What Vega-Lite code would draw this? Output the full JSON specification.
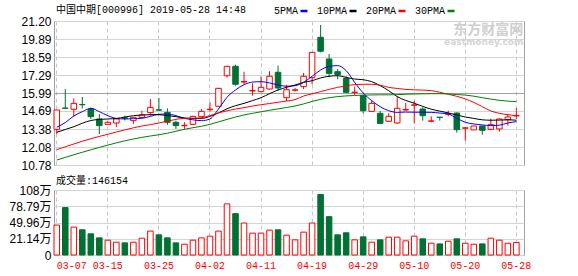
{
  "$schema": "https://vega.github.io/schema/vega-lite/v6.json",
  "background": "white",
  "padding": {"left": 8, "top": 4, "right": 0, "bottom": 0},
  "data": {"values": [
    {"d":"03-07","o":13.36,"h":14.76,"l":13.02,"c":14.76,"v":45.4,"5PMA":13.51,"10PMA":13.15,"20PMA":11.89,"30PMA":11.14},
    {"d":"03-08","o":14.90,"h":16.28,"l":14.85,"c":14.88,"v":76.4,"5PMA":13.85,"10PMA":13.35,"20PMA":12.10,"30PMA":11.33},
    {"d":"03-11","o":14.81,"h":15.60,"l":14.28,"c":15.24,"v":41.8,"5PMA":14.33,"10PMA":13.55,"20PMA":12.30,"30PMA":11.52},
    {"d":"03-12","o":15.16,"h":15.70,"l":14.88,"c":15.14,"v":37.0,"5PMA":14.64,"10PMA":13.80,"20PMA":12.50,"30PMA":11.70},
    {"d":"03-13","o":14.83,"h":14.93,"l":14.11,"c":14.28,"v":29.9,"5PMA":14.88,"10PMA":14.00,"20PMA":12.68,"30PMA":11.88},
    {"d":"03-14","o":14.11,"h":14.47,"l":13.02,"c":13.63,"v":22.7,"5PMA":14.64,"10PMA":14.08,"20PMA":12.85,"30PMA":12.05},
    {"d":"03-15","o":13.72,"h":13.95,"l":13.70,"c":13.87,"v":18.6,"5PMA":14.35,"10PMA":14.11,"20PMA":13.00,"30PMA":12.22},
    {"d":"03-18","o":13.82,"h":14.15,"l":13.53,"c":14.11,"v":15.0,"5PMA":14.15,"10PMA":14.15,"20PMA":13.17,"30PMA":12.38},
    {"d":"03-19","o":14.19,"h":14.35,"l":14.00,"c":14.17,"v":13.8,"5PMA":14.11,"10PMA":14.25,"20PMA":13.32,"30PMA":12.53},
    {"d":"03-20","o":13.99,"h":14.25,"l":13.75,"c":14.23,"v":15.0,"5PMA":14.13,"10PMA":14.35,"20PMA":13.47,"30PMA":12.66},
    {"d":"03-21","o":14.22,"h":14.71,"l":14.20,"c":14.40,"v":22.1,"5PMA":14.16,"10PMA":14.40,"20PMA":13.60,"30PMA":12.78},
    {"d":"03-22","o":14.57,"h":15.56,"l":14.35,"c":14.95,"v":34.7,"5PMA":14.30,"10PMA":14.42,"20PMA":13.70,"30PMA":12.88},
    {"d":"03-25","o":14.77,"h":15.63,"l":14.74,"c":14.75,"v":28.1,"5PMA":14.45,"10PMA":14.42,"20PMA":13.82,"30PMA":12.97},
    {"d":"03-26","o":14.59,"h":14.88,"l":13.68,"c":13.87,"v":22.7,"5PMA":14.47,"10PMA":14.35,"20PMA":13.95,"30PMA":13.08},
    {"d":"03-27","o":13.87,"h":13.99,"l":13.39,"c":13.63,"v":13.8,"5PMA":14.35,"10PMA":14.28,"20PMA":14.08,"30PMA":13.22},
    {"d":"03-28","o":13.62,"h":13.87,"l":13.39,"c":13.65,"v":11.4,"5PMA":14.16,"10PMA":14.18,"20PMA":14.16,"30PMA":13.36},
    {"d":"03-29","o":13.72,"h":14.35,"l":13.68,"c":14.30,"v":18.6,"5PMA":14.05,"10PMA":14.15,"20PMA":14.16,"30PMA":13.48},
    {"d":"04-01","o":14.28,"h":14.83,"l":14.26,"c":14.66,"v":22.7,"5PMA":13.99,"10PMA":14.15,"20PMA":14.20,"30PMA":13.58},
    {"d":"04-02","o":14.78,"h":15.31,"l":14.64,"c":14.82,"v":25.7,"5PMA":14.11,"10PMA":14.30,"20PMA":14.35,"30PMA":13.72},
    {"d":"04-03","o":15.03,"h":16.35,"l":14.98,"c":16.33,"v":34.7,"5PMA":14.83,"10PMA":14.55,"20PMA":14.55,"30PMA":13.90},
    {"d":"04-04","o":17.24,"h":17.95,"l":17.10,"c":17.92,"v":83.0,"5PMA":15.68,"10PMA":14.85,"20PMA":14.70,"30PMA":14.08},
    {"d":"04-08","o":17.92,"h":18.04,"l":16.52,"c":16.62,"v":65.7,"5PMA":16.21,"10PMA":15.07,"20PMA":14.83,"30PMA":14.25},
    {"d":"04-09","o":16.78,"h":17.53,"l":16.64,"c":16.82,"v":49.0,"5PMA":16.59,"10PMA":15.24,"20PMA":14.93,"30PMA":14.40},
    {"d":"04-10","o":16.14,"h":16.69,"l":15.80,"c":16.17,"v":31.1,"5PMA":16.78,"10PMA":15.44,"20PMA":15.05,"30PMA":14.52},
    {"d":"04-11","o":16.09,"h":17.20,"l":16.05,"c":16.40,"v":31.1,"5PMA":16.81,"10PMA":15.65,"20PMA":15.14,"30PMA":14.63},
    {"d":"04-12","o":16.28,"h":17.56,"l":16.24,"c":17.20,"v":36.4,"5PMA":16.72,"10PMA":15.94,"20PMA":15.23,"30PMA":14.74},
    {"d":"04-15","o":17.49,"h":17.97,"l":16.16,"c":16.35,"v":37.0,"5PMA":16.57,"10PMA":16.21,"20PMA":15.32,"30PMA":14.84},
    {"d":"04-16","o":15.65,"h":16.59,"l":15.41,"c":16.23,"v":27.5,"5PMA":16.48,"10PMA":16.40,"20PMA":15.41,"30PMA":14.94},
    {"d":"04-17","o":16.19,"h":16.35,"l":16.09,"c":16.22,"v":19.2,"5PMA":16.52,"10PMA":16.57,"20PMA":15.51,"30PMA":15.05},
    {"d":"04-18","o":16.45,"h":17.44,"l":16.28,"c":17.20,"v":32.9,"5PMA":16.76,"10PMA":16.76,"20PMA":15.77,"30PMA":15.20},
    {"d":"04-19","o":17.10,"h":18.95,"l":16.62,"c":18.93,"v":49.0,"5PMA":17.20,"10PMA":16.88,"20PMA":15.93,"30PMA":15.38},
    {"d":"04-22","o":20.02,"h":20.91,"l":18.93,"c":19.01,"v":99.7,"5PMA":17.65,"10PMA":17.08,"20PMA":16.09,"30PMA":15.53},
    {"d":"04-23","o":18.45,"h":18.81,"l":17.12,"c":17.41,"v":60.3,"5PMA":17.92,"10PMA":17.20,"20PMA":16.25,"30PMA":15.65},
    {"d":"04-24","o":17.53,"h":17.72,"l":16.98,"c":17.32,"v":28.1,"5PMA":17.97,"10PMA":17.24,"20PMA":16.40,"30PMA":15.73},
    {"d":"04-25","o":17.05,"h":17.20,"l":15.99,"c":16.04,"v":31.7,"5PMA":17.61,"10PMA":17.12,"20PMA":16.50,"30PMA":15.78},
    {"d":"04-26","o":16.02,"h":16.45,"l":15.85,"c":16.05,"v":19.2,"5PMA":16.76,"10PMA":17.00,"20PMA":16.60,"30PMA":15.81},
    {"d":"04-29","o":15.80,"h":15.85,"l":14.52,"c":14.71,"v":24.5,"5PMA":15.99,"10PMA":16.95,"20PMA":16.62,"30PMA":15.84},
    {"d":"04-30","o":14.66,"h":15.44,"l":14.64,"c":15.24,"v":15.0,"5PMA":15.44,"10PMA":16.81,"20PMA":16.62,"30PMA":15.85},
    {"d":"05-06","o":14.52,"h":14.69,"l":13.78,"c":13.79,"v":19.2,"5PMA":15.00,"10PMA":16.52,"20PMA":16.55,"30PMA":15.86},
    {"d":"05-07","o":13.94,"h":14.52,"l":13.92,"c":14.30,"v":23.9,"5PMA":14.71,"10PMA":16.16,"20PMA":16.40,"30PMA":15.86},
    {"d":"05-08","o":13.82,"h":15.75,"l":13.75,"c":14.88,"v":23.9,"5PMA":14.59,"10PMA":15.73,"20PMA":16.32,"30PMA":15.87},
    {"d":"05-09","o":14.76,"h":15.27,"l":14.70,"c":14.80,"v":17.4,"5PMA":14.61,"10PMA":15.45,"20PMA":16.25,"30PMA":15.90},
    {"d":"05-10","o":15.10,"h":15.41,"l":13.79,"c":15.13,"v":25.7,"5PMA":14.60,"10PMA":15.25,"20PMA":16.22,"30PMA":15.92},
    {"d":"05-13","o":14.83,"h":14.95,"l":13.99,"c":14.35,"v":21.0,"5PMA":14.60,"10PMA":15.02,"20PMA":16.20,"30PMA":15.93},
    {"d":"05-14","o":13.95,"h":14.30,"l":13.87,"c":13.97,"v":13.2,"5PMA":14.59,"10PMA":14.82,"20PMA":16.16,"30PMA":15.94},
    {"d":"05-15","o":14.24,"h":14.25,"l":13.99,"c":14.22,"v":12.0,"5PMA":14.54,"10PMA":14.68,"20PMA":16.04,"30PMA":15.94},
    {"d":"05-16","o":14.45,"h":14.71,"l":14.30,"c":14.48,"v":16.8,"5PMA":14.47,"10PMA":14.55,"20PMA":15.90,"30PMA":15.92},
    {"d":"05-17","o":14.54,"h":14.59,"l":13.12,"c":13.34,"v":21.0,"5PMA":14.16,"10PMA":14.40,"20PMA":15.75,"30PMA":15.88},
    {"d":"05-20","o":13.44,"h":13.50,"l":12.54,"c":13.47,"v":13.2,"5PMA":13.87,"10PMA":14.25,"20PMA":15.56,"30PMA":15.84},
    {"d":"05-21","o":13.32,"h":13.62,"l":13.30,"c":13.60,"v":11.4,"5PMA":13.75,"10PMA":14.15,"20PMA":15.31,"30PMA":15.76},
    {"d":"05-22","o":13.60,"h":13.62,"l":12.97,"c":13.29,"v":12.0,"5PMA":13.68,"10PMA":14.05,"20PMA":15.00,"30PMA":15.65},
    {"d":"05-23","o":13.36,"h":14.13,"l":13.32,"c":13.70,"v":22.1,"5PMA":13.63,"10PMA":14.02,"20PMA":14.69,"30PMA":15.55},
    {"d":"05-24","o":13.39,"h":14.16,"l":13.19,"c":14.11,"v":18.6,"5PMA":13.66,"10PMA":14.03,"20PMA":14.52,"30PMA":15.46},
    {"d":"05-27","o":14.06,"h":14.47,"l":13.63,"c":14.25,"v":13.2,"5PMA":13.82,"10PMA":14.05,"20PMA":14.42,"30PMA":15.40},
    {"d":"05-28","o":14.33,"h":14.90,"l":14.11,"c":14.36,"v":14.6,"5PMA":13.92,"10PMA":14.02,"20PMA":14.35,"30PMA":15.37}
  ]},
  "config": {
    "view": {"stroke": "#a0a0a0", "strokeWidth": 1},
    "axis": {"labelFont": "Liberation Sans, Noto Sans CJK SC", "labelFontSize": 12, "labelColor": "#000000", "title": null, "ticks": false, "domain": false, "labelOverlap": false},
    "title": {"font": "Liberation Mono, Noto Sans CJK SC", "fontSize": 10, "fontWeight": "normal", "anchor": "start", "frame": "group", "color": "#000000"}
  },
  "spacing": 3,
  "vconcat": [
    {
      "width": 470,
      "height": 144,
      "title": {"text": "中国中期[000996] 2019-05-28 14:48", "offset": 0, "dx": 2},
      "layer": [
        {
          "mark": {"type": "rule", "strokeWidth": 1},
          "encoding": {
            "x": {"field": "d", "type": "ordinal", "sort": null,
              "scale": {"type": "band", "paddingInner": 0.35, "paddingOuter": 0.286, "align": 0},
              "axis": {"values": ["03-07","03-15","03-25","04-02","04-11","04-19","04-29","05-10","05-20","05-28"], "labels": false, "grid": true, "gridDash": [4,3], "gridColor": "#c8c8c8"}},
            "y": {"field": "l", "type": "quantitative",
              "scale": {"domain": [10.78, 21.20], "zero": false, "nice": false},
              "axis": {"values": [10.78, 12.08, 13.38, 14.69, 15.99, 17.29, 18.59, 19.89, 21.20], "tickCount": 20, "format": ".2f", "grid": true, "labelPadding": 3, "labelOverlap": false, "labelBound": false, "labelFlush": false,
                "gridColor": {"condition": {"test": "datum.value == 15.99", "value": "#a0a0a0"}, "value": "#d4d4d4"}}},
            "y2": {"field": "h"},
            "color": {"condition": {"test": "datum.c >= datum.o", "value": "#ff0000"}, "value": "#007033"}
          }
        },
        {
          "mark": {"type": "bar", "strokeWidth": 1},
          "encoding": {
            "x": {"field": "d", "type": "ordinal", "sort": null},
            "y": {"field": "o", "type": "quantitative"},
            "y2": {"field": "c"},
            "fill": {"condition": {"test": "datum.c >= datum.o", "value": "#ffffff"}, "value": "#007033"},
            "stroke": {"condition": {"test": "datum.c >= datum.o", "value": "#ff0000"}, "value": "#007033"}
          }
        },
        {
          "transform": [{"fold": ["5PMA", "10PMA", "20PMA", "30PMA"], "as": ["ma", "val"]}],
          "mark": {"type": "line", "strokeWidth": 1, "interpolate": "monotone"},
          "encoding": {
            "x": {"field": "d", "type": "ordinal", "sort": null},
            "y": {"field": "val", "type": "quantitative"},
            "color": {"field": "ma", "type": "nominal",
              "scale": {"domain": ["5PMA", "10PMA", "20PMA", "30PMA"], "range": ["#0000ff", "#000000", "#ff0000", "#008000"]},
              "legend": {"orient": "none", "legendX": 220, "legendY": -15, "direction": "horizontal", "title": null,
                "labelFont": "Liberation Mono", "labelFontSize": 10, "labelColor": "#000000", "labelOffset": 0,
                "symbolType": "stroke", "symbolSize": 49, "symbolStrokeWidth": 2.5, "columnPadding": 4,
                "encode": {"labels": {"update": {"x": {"value": 0}}}, "symbols": {"update": {"x": {"signal": "length(datum.label) * 6 + 6"}}}}}}
          }
        },
        {
          "data": {"values": [{"t": "东方财富网", "u": "eastmoney.com"}]},
          "mark": {"type": "text", "align": "right", "baseline": "middle", "fontSize": 14, "fontWeight": "bold", "font": "Noto Sans CJK SC", "color": "#cfcfcf", "dx": 7},
          "encoding": {
            "x": {"datum": "05-28", "type": "ordinal"},
            "y": {"datum": 20.58, "type": "quantitative"},
            "text": {"field": "t"}
          }
        },
        {
          "data": {"values": [{"t": "东方财富网", "u": "eastmoney.com"}]},
          "mark": {"type": "text", "align": "right", "baseline": "middle", "fontSize": 9, "fontWeight": "bold", "font": "DejaVu Sans", "color": "#d4d4d4", "dx": 7},
          "encoding": {
            "x": {"datum": "05-28", "type": "ordinal"},
            "y": {"datum": 19.68, "type": "quantitative"},
            "text": {"field": "u"}
          }
        }
      ]
    },
    {
      "width": 470,
      "height": 65,
      "title": {"text": "成交量:146154", "offset": -2, "dx": 2},
      "mark": {"type": "bar", "strokeWidth": 1},
      "encoding": {
        "x": {"field": "d", "type": "ordinal", "sort": null,
          "scale": {"type": "band", "paddingInner": 0.35, "paddingOuter": 0.286, "align": 0},
          "axis": {"values": ["03-07","03-15","03-25","04-02","04-11","04-19","04-29","05-10","05-20","05-28"], "grid": true, "gridDash": [4,3], "gridColor": "#c8c8c8",
            "labelFont": "Liberation Mono", "labelFontSize": 10, "labelColor": "#ff0000", "labelPadding": 5, "labelAngle": 0,
            "labelAlign": {"condition": {"test": "datum.value == '03-07'", "value": "left"}, "value": "center"}}},
        "y": {"field": "v", "type": "quantitative",
          "scale": {"domain": [-7.68, 107.6], "zero": false, "nice": false},
          "axis": {"values": [-7.68, 21.14, 49.96, 78.79, 107.6], "tickCount": 20, "grid": true, "gridColor": "#d4d4d4", "labelPadding": 3,
            "labelExpr": "datum.value < 0 ? '0' : datum.value > 100 ? '108万' : format(datum.value, '.2f') + '万'"}},
        "y2": {"datum": -7.68},
        "fill": {"condition": {"test": "datum.c >= datum.o", "value": "#ffffff"}, "value": "#007033"},
        "stroke": {"condition": {"test": "datum.c >= datum.o", "value": "#ff0000"}, "value": "#007033"}
      }
    }
  ]
}
